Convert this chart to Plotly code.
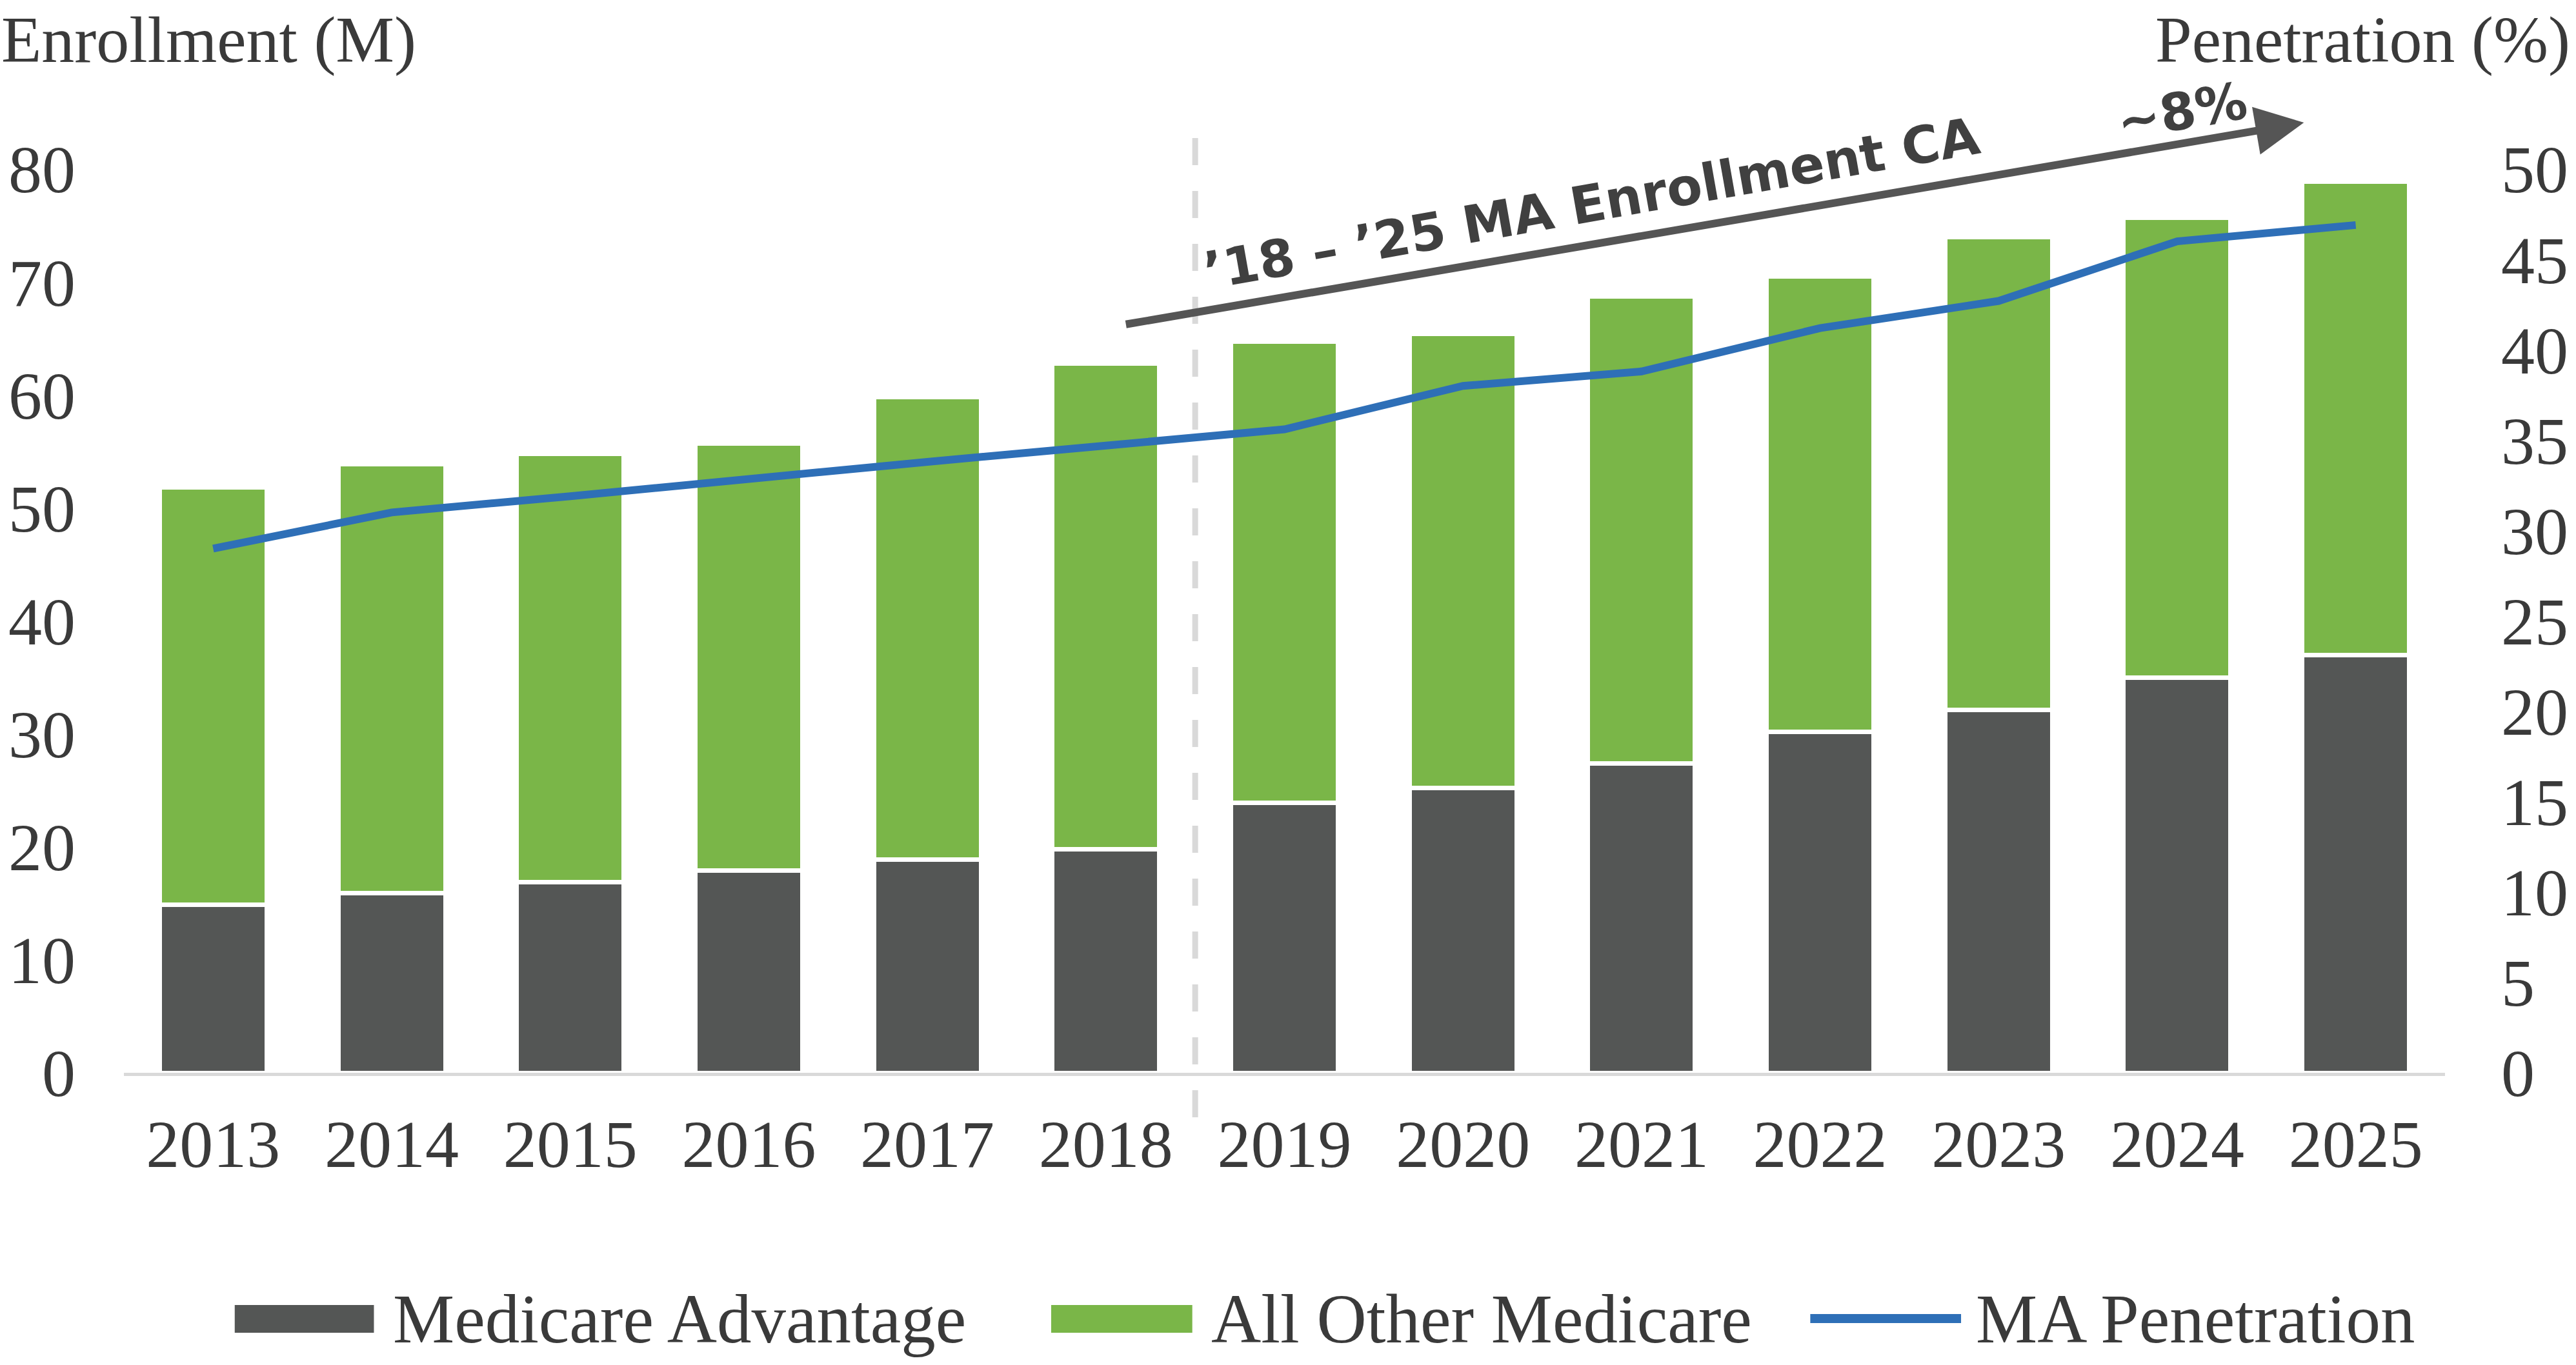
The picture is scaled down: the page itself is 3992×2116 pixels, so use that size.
import plotly.graph_objects as go

years = ["2013", "2014", "2015", "2016", "2017", "2018", "2019",
         "2020", "2021", "2022", "2023", "2024", "2025"]
medicare_advantage = [14.9, 15.9, 16.9, 17.9, 18.9, 19.8, 23.9,
                      25.2, 27.4, 30.2, 32.1, 35.0, 37.0]
all_other_medicare = [36.9, 38.0, 37.9, 37.8, 40.9, 43.0, 40.8,
                      40.2, 41.3, 40.3, 41.9, 40.7, 41.9]
ma_penetration = [29.0, 31.0, 31.9, 32.9, 33.8, 34.7, 35.6,
                  38.0, 38.8, 41.2, 42.7, 46.0, 46.9]
left_ticks = [0, 10, 20, 30, 40, 50, 60, 70, 80]
right_ticks = [0, 5, 10, 15, 20, 25, 30, 35, 40, 45, 50]

DARK = "#545655"
GREEN = "#7ab648"
BLUE = "#2e6fb7"
TXT = "#3a3a3a"
SERIF = "Liberation Serif"
FS = 104

W, H = 3992, 2116
L, R, T, B = 192, 198, 262, 453

fig = go.Figure()
fig.add_trace(go.Bar(x=years, y=medicare_advantage, name="Medicare Advantage",
                     marker=dict(color=DARK, line=dict(color="white", width=7)),
                     showlegend=False))
fig.add_trace(go.Bar(x=years, y=all_other_medicare, name="All Other Medicare",
                     marker=dict(color=GREEN, line=dict(color="white", width=7)),
                     showlegend=False))
fig.add_trace(go.Scatter(x=years, y=ma_penetration, name="MA Penetration",
                         mode="lines", yaxis="y2",
                         line=dict(color=BLUE, width=12),
                         showlegend=False))

pw = W - L - R
ph = H - T - B

def px_x(v):
    return (v - L) / pw

def px_y(v):
    return (H - B - v) / ph

shapes = []
# dashed separator between 2018 and 2019
shapes.append(dict(type="line", xref="x", yref="paper", x0=5.5, x1=5.5,
                   y0=px_y(1732), y1=px_y(190),
                   line=dict(color="#d9d9d9", width=9, dash="42px,40px"),
                   layer="below"))

annotations = []
# axis titles
annotations.append(dict(text="Enrollment (M)", xref="paper", yref="paper",
                        x=px_x(0), y=px_y(62), xanchor="left", yanchor="middle",
                        showarrow=False, font=dict(family=SERIF, size=102, color=TXT)))
annotations.append(dict(text="Penetration (%)", xref="paper", yref="paper",
                        x=px_x(3990), y=px_y(62), xanchor="right", yanchor="middle",
                        showarrow=False, font=dict(family=SERIF, size=102, color=TXT)))
# CAGR arrow
tip = (3575, 190)
tail = (1748, 503)
annotations.append(dict(text="", xref="paper", yref="paper",
                        x=px_x(tip[0]), y=px_y(tip[1]),
                        ax=tail[0] - tip[0], ay=tail[1] - tip[1],
                        showarrow=True, arrowhead=2, arrowsize=1.25,
                        arrowwidth=12, arrowcolor="#555555", standoff=0))
annotations.append(dict(text="<b>\u201918 \u2013 \u201925 MA Enrollment CA</b>",
                        xref="paper", yref="paper",
                        x=px_x(2470), y=px_y(315), textangle=-10,
                        xanchor="center", yanchor="middle",
                        showarrow=False,
                        font=dict(family="DejaVu Sans", size=80, color="#404040")))
annotations.append(dict(text="<b>~8%</b>",
                        xref="paper", yref="paper",
                        x=px_x(3386), y=px_y(173), textangle=-10,
                        xanchor="center", yanchor="middle",
                        showarrow=False,
                        font=dict(family="DejaVu Sans", size=80, color="#404040")))

# manual legend
ly = 2045
LFS = 107
shapes.append(dict(type="rect", xref="paper", yref="paper",
                   x0=px_x(364), x1=px_x(580), y0=px_y(2066), y1=px_y(2023),
                   fillcolor=DARK, line=dict(width=0)))
shapes.append(dict(type="rect", xref="paper", yref="paper",
                   x0=px_x(1631), x1=px_x(1850), y0=px_y(2066), y1=px_y(2023),
                   fillcolor=GREEN, line=dict(width=0)))
shapes.append(dict(type="line", xref="paper", yref="paper",
                   x0=px_x(2809), x1=px_x(3043), y0=px_y(2044), y1=px_y(2044),
                   line=dict(color=BLUE, width=14)))
for txt, x0 in [("Medicare Advantage", 608), ("All Other Medicare", 1877),
                ("MA Penetration", 3064)]:
    annotations.append(dict(text=txt, xref="paper", yref="paper",
                            x=px_x(x0), y=px_y(ly), xanchor="left", yanchor="middle",
                            showarrow=False,
                            font=dict(family=SERIF, size=LFS, color=TXT)))

fig.update_layout(
    width=W, height=H,
    margin=dict(l=L, r=R, t=T, b=B, pad=0),
    paper_bgcolor="white", plot_bgcolor="white",
    barmode="stack", bargap=0.40,
    shapes=shapes, annotations=annotations,
    xaxis=dict(type="category", range=[-0.5, 12.5], showgrid=False,
               showline=True, linecolor="#d9d9d9", linewidth=5,
               ticks="", tickfont=dict(family=SERIF, size=FS, color=TXT),
               ticklabelstandoff=16, zeroline=False),
    yaxis=dict(range=[0, 80], tickvals=left_ticks, showgrid=False,
               showline=False, zeroline=False, ticks="",
               tickfont=dict(family=SERIF, size=FS, color=TXT),
               ticklabelstandoff=74),
    yaxis2=dict(range=[0, 50], tickvals=right_ticks, overlaying="y",
                side="right", showgrid=False, showline=False, zeroline=False,
                ticks="", tickfont=dict(family=SERIF, size=FS, color=TXT),
                ticklabelstandoff=86),
)

fig.write_html("out.html")
